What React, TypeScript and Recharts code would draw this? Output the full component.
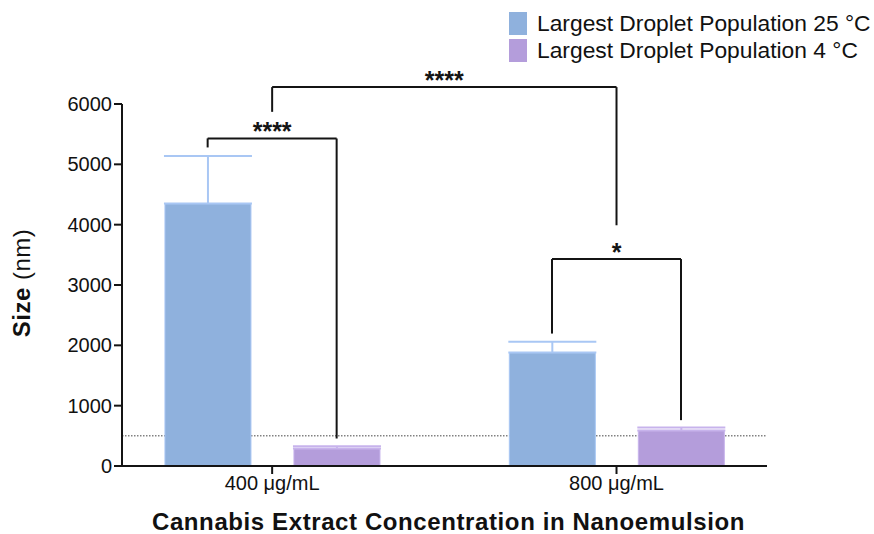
import React from "react";
import {
  BarChart,
  Bar,
  XAxis,
  YAxis,
  ErrorBar,
  ReferenceLine,
  ReferenceDot,
  Legend,
} from "recharts";

// ---- data ----
const concentrations = ["400 μg/mL", "800 μg/mL"];
const size25C = [4350, 1880];
const sd25C = [790, 180];
const size4C = [290, 590];
const sd4C = [37, 47];
const yTicks = [0, 1000, 2000, 3000, 4000, 5000, 6000];
const thresholdNm = 500;

// significance brackets: which bars they join and the heights of their legs (nm)
const brackets = [
  { left: [0, "b"], right: [0, "p"], top: 5430, leftEnd: 5280, rightEnd: 455, mark: "****" },
  { left: [0, "g"], right: [1, "g"], top: 6280, leftEnd: 5870, rightEnd: 3990, mark: "****" },
  { left: [1, "b"], right: [1, "p"], top: 3430, leftEnd: 2195, rightEnd: 760, mark: "*" },
];

const seriesNames = ["Largest Droplet Population 25 °C", "Largest Droplet Population 4 °C"];

// ---- styling / layout ----
const W = 874;
const H = 534;
const FONT = "'Liberation Sans', Arial, Helvetica, sans-serif";
const BLUE = "#8fb1dd";
const BLUE_EDGE = "#a9c7f4";
const PURPLE = "#b49ddb";
const PURPLE_EDGE = "#c7b3ec";
const BAR_SIZE = 86;
const BAR_GAP = 43;
const MARGIN = { top: 104, right: 107, bottom: 28, left: 52 };
const Y_AXIS_W = 70;
const X_AXIS_H = 40;
const X_DOMAIN: [number, number] = [-0.436, 1.437];
const PLOT_W = W - MARGIN.left - Y_AXIS_W - MARGIN.right;
const UNIT_PX = PLOT_W / (X_DOMAIN[1] - X_DOMAIN[0]);
const HALF_STEP = (BAR_SIZE + BAR_GAP) / 2 / UNIT_PX;

const data = concentrations.map((c, i) => ({
  x: i,
  name: c,
  b: size25C[i],
  bErr: [0, sd25C[i]],
  p: size4C[i],
  pErr: [0, sd4C[i]],
}));

const barX = (ref: any[]) => {
  const [i, which] = ref;
  if (which === "b") return i - HALF_STEP;
  if (which === "p") return i + HALF_STEP;
  return i;
};

const LINE = "#141414";

const StarLabel = (props: any) => {
  const vb = props.viewBox || {};
  return (
    <text
      x={vb.x + (vb.width || 0) / 2}
      y={vb.y + 2}
      textAnchor="middle"
      fontFamily={FONT}
      fontWeight="bold"
      fontSize={25}
      fill={LINE}
    >
      {props.value}
    </text>
  );
};

const LegendBox = () => (
  <div style={{ fontFamily: FONT, fontSize: 22.8, color: "#111", lineHeight: "27px", whiteSpace: "nowrap" }}>
    {seriesNames.map((n, i) => (
      <div key={n} style={{ display: "flex", alignItems: "center", height: 27 }}>
        <span
          style={{
            display: "inline-block",
            width: 18,
            height: 23,
            background: i === 0 ? BLUE : PURPLE,
            marginRight: 10,
          }}
        />
        <span>{n}</span>
      </div>
    ))}
  </div>
);

const XTitle = (props: any) => {
  const vb = props.viewBox;
  return (
    <text
      x={vb.x + vb.width / 2 + 4}
      y={529.5}
      textAnchor="middle"
      fontFamily={FONT}
      fontWeight="bold"
      fontSize={24}
      letterSpacing={0.6}
      fill="#111"
    >
      Cannabis Extract Concentration in Nanoemulsion
    </text>
  );
};

const YTitle = (props: any) => {
  const vb = props.viewBox;
  const cy = vb.y + vb.height / 2 - 2;
  return (
    <text
      x={30}
      y={cy}
      transform={`rotate(-90, 30, ${cy})`}
      textAnchor="middle"
      fontFamily={FONT}
      fontSize={24}
      letterSpacing={0.5}
      fill="#111"
    >
      <tspan fontWeight="bold">Size</tspan>
      <tspan> (nm)</tspan>
    </text>
  );
};

export default function App() {
  return (
    <div style={{ position: "absolute", left: 0, top: 0, width: W, height: H, background: "#fff" }}>
      <BarChart
        width={W}
        height={H}
        data={data}
        margin={MARGIN}
        barGap={BAR_GAP}
        barSize={BAR_SIZE}
      >
        <XAxis
          dataKey="x"
          type="number"
          domain={X_DOMAIN}
          ticks={[0, 1]}
          tickFormatter={(v: number) => concentrations[v]}
          height={X_AXIS_H}
          tickSize={8}
          axisLine={{ stroke: LINE, strokeWidth: 2 }}
          tickLine={{ stroke: LINE, strokeWidth: 2 }}
          tick={{ fill: "#111", fontSize: 20, fontFamily: FONT }}
          label={<XTitle />}
          allowDataOverflow
        />
        <YAxis
          type="number"
          domain={[0, 6000]}
          ticks={yTicks}
          width={Y_AXIS_W}
          tickSize={8}
          axisLine={{ stroke: LINE, strokeWidth: 2 }}
          tickLine={{ stroke: LINE, strokeWidth: 2 }}
          tick={{ fill: "#111", fontSize: 20, fontFamily: FONT }}
          label={<YTitle />}
        />
        <Legend
          layout="horizontal"
          verticalAlign="middle"
          align="center"
          content={<LegendBox />}
          wrapperStyle={{ position: "absolute", left: 509, top: 10, width: 365 }}
        />
        <ReferenceLine
          y={thresholdNm}
          stroke="#444"
          strokeWidth={1}
          strokeDasharray="1.5 1.5"
          zIndex={100}
        />
        <Bar dataKey="b" name={seriesNames[0]} fill={BLUE} stroke={BLUE_EDGE} strokeWidth={1} isAnimationActive={false}>
          <ErrorBar dataKey="bErr" width={44} stroke={BLUE_EDGE} strokeWidth={2} direction="y" />
        </Bar>
        <Bar dataKey="p" name={seriesNames[1]} fill={PURPLE} stroke={PURPLE_EDGE} strokeWidth={1} isAnimationActive={false}>
          <ErrorBar dataKey="pErr" width={44} stroke={PURPLE_EDGE} strokeWidth={2} direction="y" />
        </Bar>
        {brackets.map((br, k) => {
          const x1 = barX(br.left);
          const x2 = barX(br.right);
          return (
            <React.Fragment key={k}>
              <ReferenceLine
                segment={[{ x: x1, y: br.leftEnd }, { x: x1, y: br.top }]}
                stroke={LINE}
                strokeWidth={2}
                ifOverflow="visible"
              />
              <ReferenceLine
                segment={[{ x: x1, y: br.top }, { x: x2, y: br.top }]}
                stroke={LINE}
                strokeWidth={2}
                ifOverflow="visible"
              />
              <ReferenceLine
                segment={[{ x: x2, y: br.top }, { x: x2, y: br.rightEnd }]}
                stroke={LINE}
                strokeWidth={2}
                ifOverflow="visible"
              />
              <ReferenceDot
                x={(x1 + x2) / 2}
                y={br.top}
                r={0}
                fill="none"
                stroke="none"
                ifOverflow="visible"
                label={<StarLabel value={br.mark} />}
              />
            </React.Fragment>
          );
        })}
      </BarChart>
    </div>
  );
}
